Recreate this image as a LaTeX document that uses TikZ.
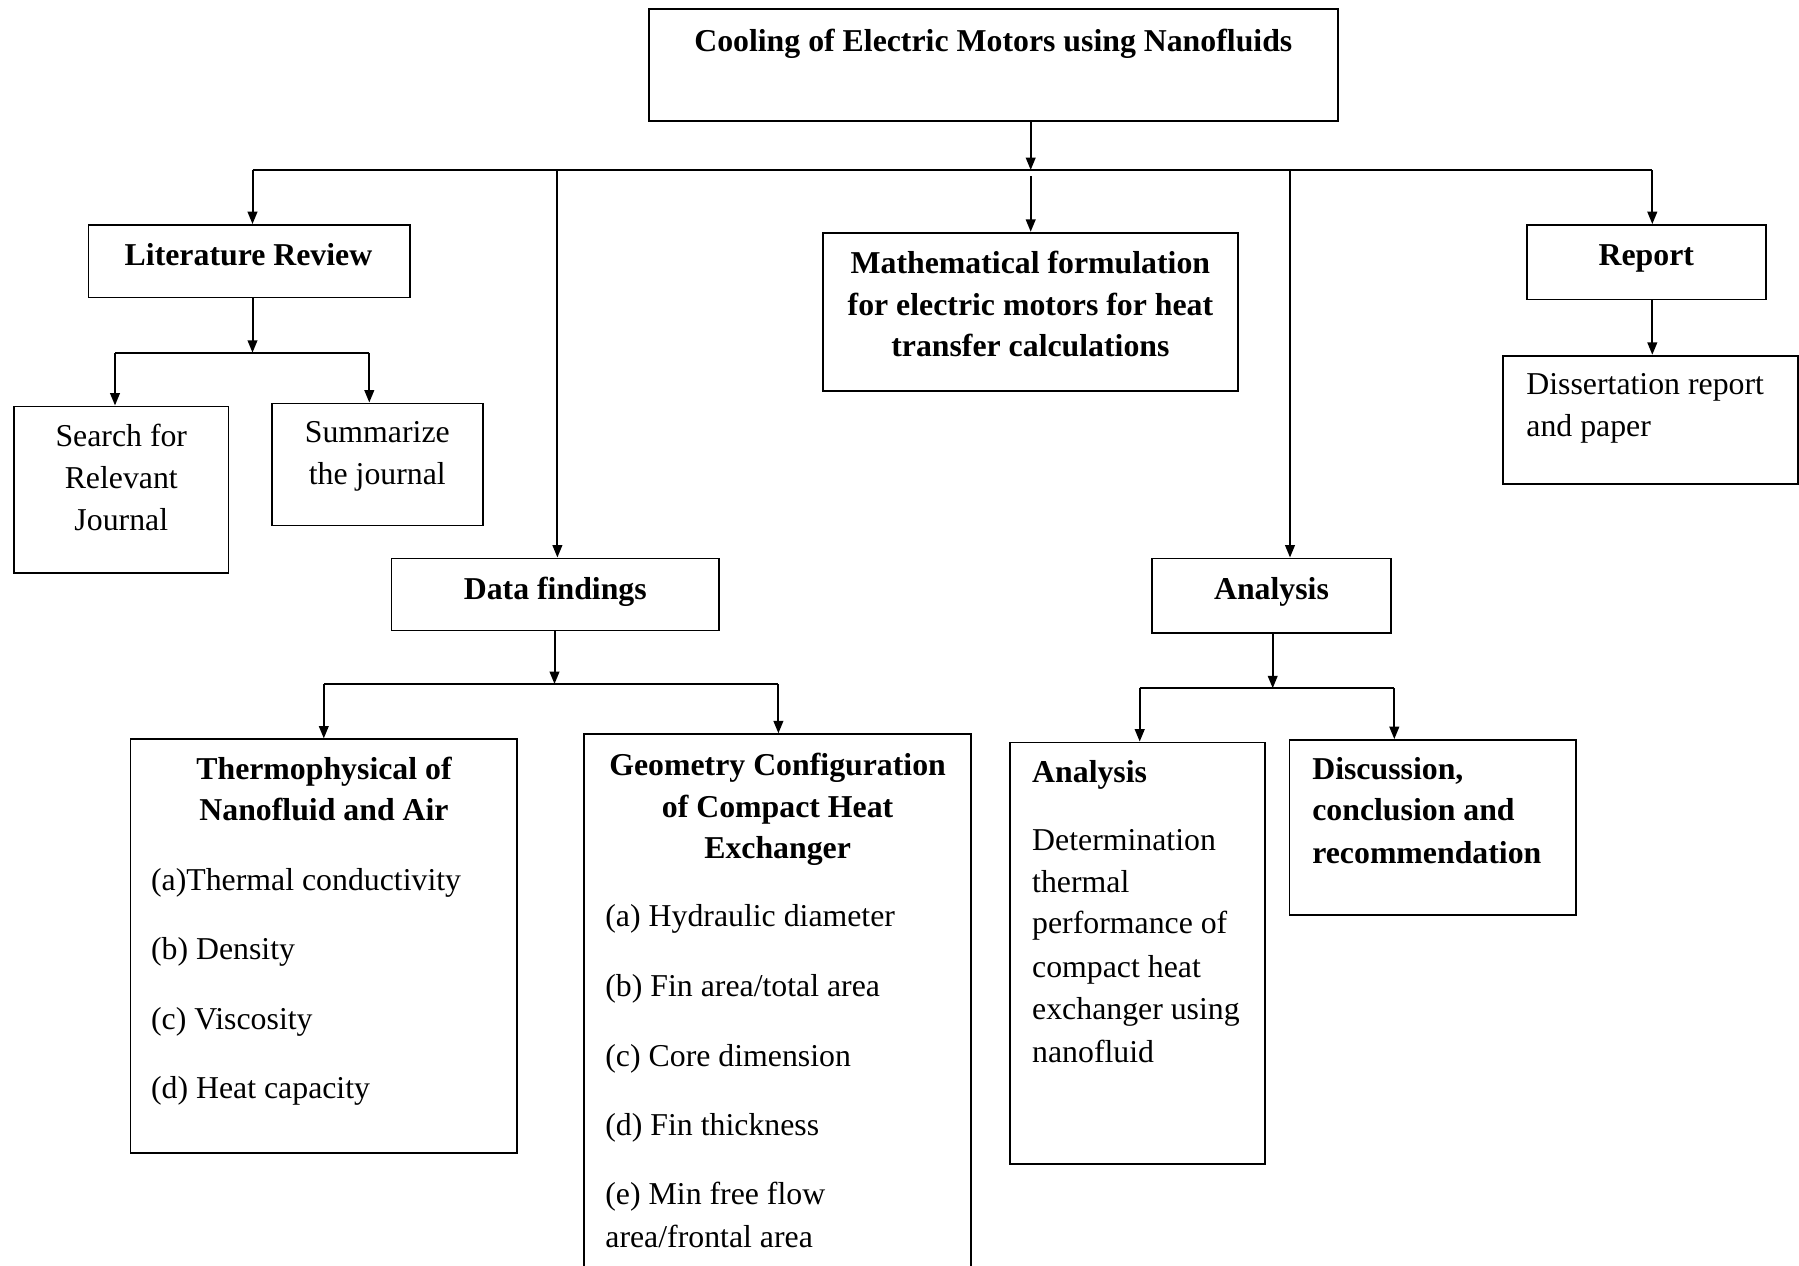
\documentclass[tikz,border=0pt]{standalone}
\usepackage{fontspec}
\setmainfont{Liberation Serif}
\usetikzlibrary{arrows.meta,fit}
\tikzset{
  box/.style={draw, line width=0.9pt, inner sep=0pt, rectangle},
  ln/.style={line width=1pt},
  arr/.style={line width=1pt, -{Triangle[length=6.2pt,width=4.8pt]}},
  tx/.style={inner sep=0pt, anchor=base, font=\fontsize{15.9pt}{21pt}\selectfont},
  txl/.style={tx, anchor=base west},
  tb/.style={tx, font=\fontsize{15.9pt}{21pt}\selectfont\bfseries},
  tbl/.style={tb, anchor=base west}
}
\begin{document}
\begin{tikzpicture}[x=0.5pt,y=-0.5pt]
\fill[white] (0,0) rectangle (1799,1265);
\useasboundingbox (0,0) rectangle (1799,1265);
\clip (0,0) rectangle (1799,1265);

% boxes
\node[box, fit={(648.6,9) (1338,121.3)}] (top) {};
\node[box, fit={(88.4,225) (410,297.4)}] (lr) {};
\node[box, fit={(13.8,406.4) (228.5,572.9)}] (srch) {};
\node[box, fit={(272,403.4) (483,525.4)}] (summ) {};
\node[box, fit={(822.7,232.7) (1237.7,390.7)}] (math) {};
\node[box, fit={(1526.7,225) (1766,299.5)}] (rep) {};
\node[box, fit={(1502.7,355.7) (1798,484)}] (diss) {};
\node[box, fit={(391.5,558.4) (719,630.5)}] (df) {};
\node[box, fit={(1152,558.4) (1391,633)}] (an) {};
\node[box, fit={(130.5,739.3) (516.8,1153.3)}] (thermo) {};
\node[box, fit={(584,734.2) (971,1290)}] (geo) {};
\node[box, fit={(1010,742.5) (1264.7,1163.6)}] (an2) {};
\node[box, fit={(1289.5,740) (1576.3,914.8)}] (disc) {};

% junction coordinates
\coordinate (j0) at (1030.7,170);
\coordinate (bL) at (252.5,170);
\coordinate (bR) at (1652.3,170);
\coordinate (bDF) at (557.4,170);
\coordinate (bAN) at (1290,170);
\coordinate (m0) at (1030.7,176);
\coordinate (lrj) at (252.5,352.7);
\coordinate (sL) at (115,352.7);
\coordinate (sR) at (369.3,352.7);
\coordinate (dfj) at (554.5,684);
\coordinate (tL) at (323.8,684);
\coordinate (tR) at (778.4,684);
\coordinate (anj) at (1272.7,688.2);
\coordinate (aL) at (1139.7,688.2);
\coordinate (aR) at (1394.3,688.2);

% connectors
\draw[arr] (top.south -| j0) -- (j0);
\draw[ln] (bL) -- (bR);
\draw[arr] (bL) -- (bL |- lr.north);
\draw[arr] (bDF) -- (bDF |- df.north);
\draw[arr] (m0) -- (m0 |- math.north);
\draw[arr] (bAN) -- (bAN |- an.north);
\draw[arr] (bR) -- (bR |- rep.north);

\draw[arr] (lr.south -| lrj) -- (lrj);
\draw[ln] (sL) -- (sR);
\draw[arr] (sL) -- (sL |- srch.north);
\draw[arr] (sR) -- (sR |- summ.north);

\draw[arr] (rep.south -| bR) -- (bR |- diss.north);

\draw[arr] (df.south -| dfj) -- (dfj);
\draw[ln] (tL) -- (tR);
\draw[arr] (tL) -- (tL |- thermo.north);
\draw[arr] (tR) -- (tR |- geo.north);

\draw[arr] (an.south -| anj) -- (anj);
\draw[ln] (aL) -- (aR);
\draw[arr] (aL) -- (aL |- an2.north);
\draw[arr] (aR) -- (aR |- disc.north);

% texts
\node[tb] (ttop) at (993.3,51.7) {Cooling of Electric Motors using Nanofluids};
\node[tb] (tlr) at (248.5,265) {Literature Review};
\node[tx] (ts1) at (121.3,446.7) {Search for};
\node[tx] (ts2) at (121.3,488.3) {Relevant};
\node[tx] (ts3) at (121.3,530.7) {Journal};
\node[tx] (tsu1) at (377.3,442.3) {Summarize};
\node[tx] (tsu2) at (377.3,484.3) {the journal};
\node[tb] (tm1) at (1030.4,273.3) {Mathematical formulation};
\node[tb] (tm2) at (1030.4,315) {for electric motors for heat};
\node[tb] (tm3) at (1030.4,356.5) {transfer calculations};
\node[tb] (trep) at (1646.3,265) {Report};
\node[txl] (td1) at (1526,394) {Dissertation report};
\node[txl] (td2) at (1526,436) {and paper};
\node[tb] (tdf) at (555.3,599) {Data findings};
\node[tb] (tan) at (1271.5,599) {Analysis};

\node[tb] (tth1) at (324,779.3) {Thermophysical of};
\node[tb] (tth2) at (324,820.7) {Nanofluid and Air};
\node[txl] (tth3) at (150.7,890.7) {(a)Thermal conductivity};
\node[txl] (tth4) at (150.7,959) {(b) Density};
\node[txl] (tth5) at (150.7,1029.3) {(c) Viscosity};
\node[txl] (tth6) at (150.7,1098.3) {(d) Heat capacity};

\node[tb] (tg1) at (777.6,775) {Geometry Configuration};
\node[tb] (tg2) at (777.6,817.7) {of Compact Heat};
\node[tb] (tg3) at (777.6,858.3) {Exchanger};
\node[txl] (tg4) at (605,926.7) {(a) Hydraulic diameter};
\node[txl] (tg5) at (605,996.7) {(b) Fin area/total area};
\node[txl] (tg6) at (605,1066) {(c) Core dimension};
\node[txl] (tg7) at (605,1135) {(d) Fin thickness};
\node[txl] (tg8) at (605,1204.5) {(e) Min free flow};
\node[txl] (tg9) at (605,1247) {area/frontal area};

\node[tbl] (ta1) at (1031.8,782.5) {Analysis};
\node[txl] (ta2) at (1031.8,850.9) {Determination};
\node[txl] (ta3) at (1031.8,892.6) {thermal};
\node[txl] (ta4) at (1031.8,933.5) {performance of};
\node[txl] (ta5) at (1031.8,977.6) {compact heat};
\node[txl] (ta6) at (1031.8,1019.3) {exchanger using};
\node[txl] (ta7) at (1031.8,1062) {nanofluid};

\node[tbl] (tc1) at (1311.9,779) {Discussion,};
\node[tbl] (tc2) at (1311.9,820.7) {conclusion and};
\node[tbl] (tc3) at (1311.9,863.4) {recommendation};
\end{tikzpicture}
\end{document}
